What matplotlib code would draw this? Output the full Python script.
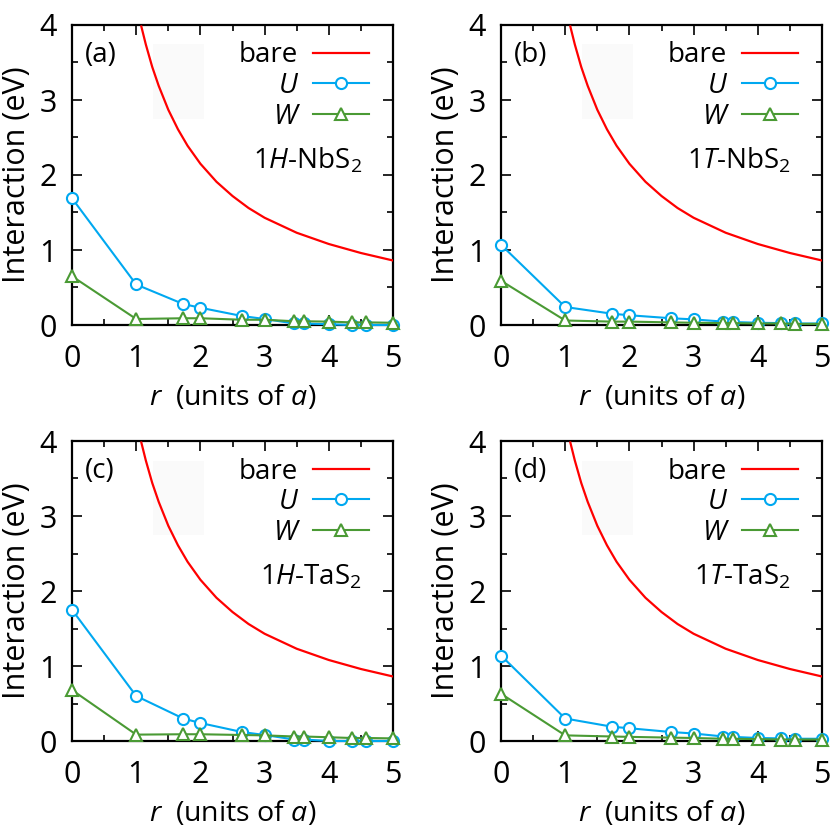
import numpy as np
import matplotlib
matplotlib.use("Agg")
import matplotlib.pyplot as plt
from matplotlib.patches import Rectangle

plt.rcParams['font.family'] = ['Open Sans', 'DejaVu Sans']
plt.rcParams['mathtext.fontset'] = 'custom'
plt.rcParams['mathtext.rm'] = 'Open Sans'
plt.rcParams['mathtext.it'] = 'Open Sans:italic'

# lattice distances (units of a)
r = [0, 1, 1.732, 2, 2.646, 3, 3.464, 3.606, 4, 4.359, 4.583, 5]

# bare Coulomb interaction
r_bare = [1.08, 1.15, 1.25, 1.35, 1.5, 1.65, 1.8, 2.0, 2.25, 2.5, 2.75, 3.0, 3.5, 4.0, 4.5, 5.0]
bare = [3.98, 3.74, 3.44, 3.19, 2.87, 2.61, 2.39, 2.15, 1.91, 1.72, 1.56, 1.43, 1.23, 1.08, 0.96, 0.86]

U_a = [1.69, 0.54, 0.28, 0.23, 0.12, 0.08, 0.02, 0.02, 0.01, 0.0, 0.0, 0.0]
W_a = [0.65, 0.08, 0.09, 0.09, 0.07, 0.07, 0.05, 0.05, 0.045, 0.035, 0.035, 0.03]
U_b = [1.07, 0.24, 0.15, 0.13, 0.09, 0.075, 0.045, 0.04, 0.03, 0.025, 0.02, 0.02]
W_b = [0.59, 0.06, 0.045, 0.045, 0.035, 0.03, 0.025, 0.025, 0.02, 0.02, 0.015, 0.015]
U_c = [1.75, 0.60, 0.30, 0.24, 0.12, 0.08, 0.02, 0.02, 0.0, 0.0, 0.0, 0.0]
W_c = [0.68, 0.085, 0.09, 0.09, 0.08, 0.075, 0.06, 0.06, 0.05, 0.04, 0.04, 0.035]
U_d = [1.14, 0.30, 0.19, 0.17, 0.12, 0.10, 0.06, 0.055, 0.04, 0.035, 0.03, 0.03]
W_d = [0.63, 0.075, 0.06, 0.055, 0.045, 0.04, 0.03, 0.03, 0.025, 0.02, 0.02, 0.02]

tags = ['(a)', '(b)', '(c)', '(d)']
names = ['1$\\mathit{H}$-NbS$_2$', '1$\\mathit{T}$-NbS$_2$',
         '1$\\mathit{H}$-TaS$_2$', '1$\\mathit{T}$-TaS$_2$']
U_all = [U_a, U_b, U_c, U_d]
W_all = [W_a, W_b, W_c, W_d]

red = '#ff0000'
blue = '#00a8f0'
green = '#4a9a34'

fig = plt.figure(figsize=(8.3, 8.3), dpi=100)
lefts = [72, 501, 72, 501]
tops = [25, 25, 441, 441]
W_px, H_px = 321, 300

for i in range(4):
    ax = fig.add_axes([lefts[i] / 830, 1 - (tops[i] + H_px) / 830, W_px / 830, H_px / 830])
    ax.add_patch(Rectangle((1.26, 2.75), 0.79, 0.99, color='#fafafa', lw=0, zorder=0))
    ax.plot(r_bare, bare, color=red, lw=1.6, label='bare', zorder=3)
    ax.plot(r, U_all[i], color=blue, lw=1.5, marker='o', ms=8, mfc='white',
            mec=blue, mew=1.5, label='U', clip_on=False, zorder=4)
    ax.plot(r, W_all[i], color=green, lw=1.5, marker='^', ms=9, mfc='white',
            mec=green, mew=1.5, label='W', clip_on=False, zorder=5)
    ax.set_xlim(0, 5)
    ax.set_ylim(0, 4)
    ax.set_xticks(range(6))
    ax.set_yticks(range(5))
    ax.set_xticks(np.arange(0.5, 5, 1), minor=True)
    ax.set_yticks(np.arange(0.5, 4, 1), minor=True)
    ax.tick_params(which='both', direction='in', top=True, right=True, labelsize=22, width=1.2)
    ax.tick_params(which='major', length=7)
    ax.tick_params(axis='x', which='major', pad=14)
    ax.tick_params(axis='y', which='major', pad=11)
    ax.tick_params(which='minor', length=4)
    for s in ax.spines.values():
        s.set_linewidth(1.6)
    ax.set_xlabel('$r$  (units of $a$)', fontsize=20.5, labelpad=6)
    ax.set_ylabel('Interaction (eV)', fontsize=22, labelpad=5)
    ax.text(0.2, 3.6, tags[i], fontsize=20, va='center', ha='left')
    ax.text(4.52, 2.19, names[i], fontsize=20, va='center', ha='right')
    leg = ax.legend(loc='upper right', bbox_to_anchor=(0.925, 0.945), frameon=False,
                    markerfirst=False, fontsize=20, handlelength=2.0, handletextpad=0.55,
                    labelspacing=0.09, borderpad=0, borderaxespad=0, numpoints=1)
    leg.get_texts()[1].set_style('italic')
    leg.get_texts()[2].set_style('italic')

fig.savefig('out.png', dpi=100)
